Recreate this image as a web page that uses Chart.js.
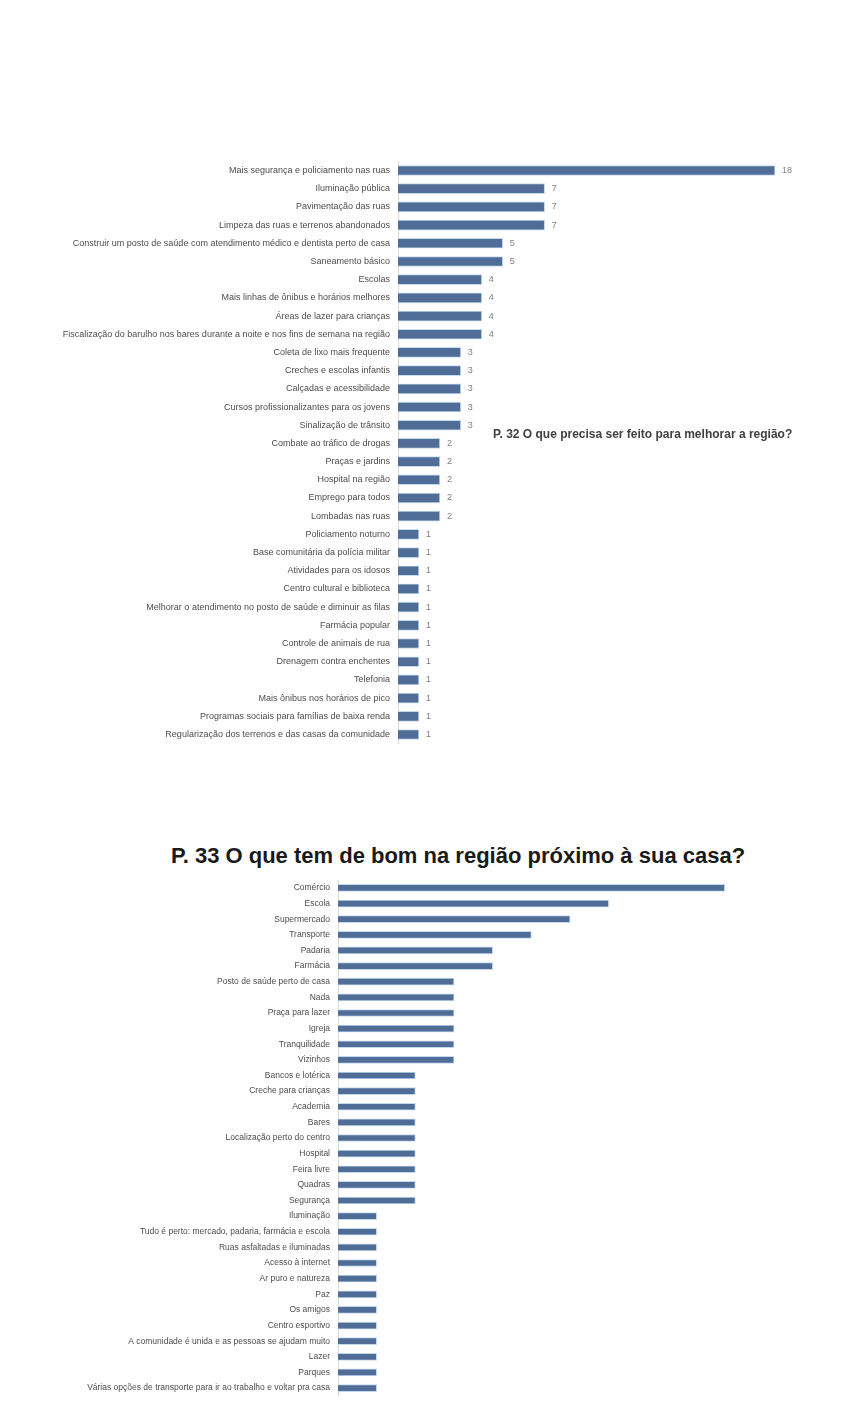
<!DOCTYPE html>
<html lang="pt-BR">
<head>
<meta charset="utf-8">
<title>Pesquisa na região - P. 32 e P. 33</title>
<script src="https://cdn.jsdelivr.net/npm/chart.js@4.4.1/dist/chart.umd.min.js"></script>
<style>
    body { margin: 0; background: #ffffff; font-family: "Liberation Sans", Arial, sans-serif; overflow: hidden; }
    .painel { position: absolute; }
    #titulo32 {
        position: absolute; left: 493px; top: 427px;
        font-size: 12px; font-weight: bold; color: #404040; white-space: nowrap;
    }
    #titulo33 {
        position: absolute; left: 158px; top: 842px; width: 600px; text-align: center;
        font-size: 22px; line-height: 28px; font-weight: bold; color: #1a1a1a; white-space: nowrap;
    }
</style>
</head>
<body>

<div class="painel" style="left:40px; top:148px; width:800px; height:609px;">
    <canvas id="graficoMelhorar"></canvas>
</div>
<div id="titulo32">P. 32 O que precisa ser feito para melhorar a região?</div>

<div id="titulo33">P. 33 O que tem de bom na região próximo à sua casa?</div>
<div class="painel" style="left:40px; top:867px; width:766px; height:542px;">
    <canvas id="graficoBom"></canvas>
</div>

<script>
// P. 32 - o que precisa melhorar (respostas por categoria)
const categoriasMelhorar = [
    'Mais segurança e policiamento nas ruas',
    'Iluminação pública',
    'Pavimentação das ruas',
    'Limpeza das ruas e terrenos abandonados',
    'Construir um posto de saúde com atendimento médico e dentista perto de casa',
    'Saneamento básico',
    'Escolas',
    'Mais linhas de ônibus e horários melhores',
    'Áreas de lazer para crianças',
    'Fiscalização do barulho nos bares durante a noite e nos fins de semana na região',
    'Coleta de lixo mais frequente',
    'Creches e escolas infantis',
    'Calçadas e acessibilidade',
    'Cursos profissionalizantes para os jovens',
    'Sinalização de trânsito',
    'Combate ao tráfico de drogas',
    'Praças e jardins',
    'Hospital na região',
    'Emprego para todos',
    'Lombadas nas ruas',
    'Policiamento noturno',
    'Base comunitária da polícia militar',
    'Atividades para os idosos',
    'Centro cultural e biblioteca',
    'Melhorar o atendimento no posto de saúde e diminuir as filas',
    'Farmácia popular',
    'Controle de animais de rua',
    'Drenagem contra enchentes',
    'Telefonia',
    'Mais ônibus nos horários de pico',
    'Programas sociais para famílias de baixa renda',
    'Regularização dos terrenos e das casas da comunidade'
];
const valoresMelhorar = [18, 7, 7, 7, 5, 5, 4, 4, 4, 4, 3, 3, 3, 3, 3, 2, 2, 2, 2, 2,
    1, 1, 1, 1, 1, 1, 1, 1, 1, 1, 1, 1];

// P. 33 - o que tem de bom perto de casa
const categoriasBom = [
    'Comércio',
    'Escola',
    'Supermercado',
    'Transporte',
    'Padaria',
    'Farmácia',
    'Posto de saúde perto de casa',
    'Nada',
    'Praça para lazer',
    'Igreja',
    'Tranquilidade',
    'Vizinhos',
    'Bancos e lotérica',
    'Creche para crianças',
    'Academia',
    'Bares',
    'Localização perto do centro',
    'Hospital',
    'Feira livre',
    'Quadras',
    'Segurança',
    'Iluminação',
    'Tudo é perto: mercado, padaria, farmácia e escola',
    'Ruas asfaltadas e iluminadas',
    'Acesso à internet',
    'Ar puro e natureza',
    'Paz',
    'Os amigos',
    'Centro esportivo',
    'A comunidade é unida e as pessoas se ajudam muito',
    'Lazer',
    'Parques',
    'Várias opções de transporte para ir ao trabalho e voltar pra casa'
];
const valoresBom = [10, 7, 6, 5, 4, 4, 3, 3, 3, 3, 3, 3, 2, 2, 2, 2, 2, 2, 2, 2, 2,
    1, 1, 1, 1, 1, 1, 1, 1, 1, 1, 1, 1];

const corBarra = '#506d97';
const corBorda = '#c3d9ee';
const fonteBase = '"Liberation Sans", Arial, sans-serif';

// Escreve o valor ao lado de cada barra (só no primeiro gráfico)
const rotulosValores = {
    id: 'rotulosValores',
    afterDatasetsDraw(chart, args, opts) {
        if (!opts || !opts.mostrar) return;
        const ctx = chart.ctx;
        const meta = chart.getDatasetMeta(0);
        ctx.save();
        ctx.font = '9px ' + fonteBase;
        ctx.fillStyle = '#7f7f7f';
        ctx.textBaseline = 'middle';
        meta.data.forEach(function(barra, i) {
            ctx.fillText(String(chart.data.datasets[0].data[i]), barra.x + 7, barra.y);
        });
        ctx.restore();
    }
};

function criarGrafico(id, categorias, valores, opcoes) {
    return new Chart(document.getElementById(id), {
        type: 'bar',
        data: {
            labels: categorias,
            datasets: [{
                data: valores,
                backgroundColor: corBarra,
                borderColor: corBorda,
                borderWidth: 1,
                barThickness: opcoes.espessura
            }]
        },
        options: {
            indexAxis: 'y',
            responsive: true,
            maintainAspectRatio: false,
            animation: false,
            layout: { padding: 0 },
            plugins: {
                legend: { display: false },
                tooltip: { enabled: false },
                title: { display: false },
                rotulosValores: { mostrar: opcoes.rotulos }
            },
            scales: {
                x: {
                    display: false,
                    min: 0,
                    max: opcoes.maximo
                },
                y: {
                    afterFit: function(scale) { scale.width = opcoes.larguraEixo; },
                    grid: { display: false, drawTicks: false },
                    border: { display: true, color: '#d9d9d9' },
                    ticks: {
                        autoSkip: false,
                        padding: 8,
                        color: '#4d4d4d',
                        font: { size: opcoes.fonteRotulo, family: fonteBase }
                    }
                }
            }
        },
        plugins: [rotulosValores]
    });
}

criarGrafico('graficoMelhorar', categoriasMelhorar, valoresMelhorar, {
    espessura: 10, maximo: 21.1, larguraEixo: 358, rotulos: true, fonteRotulo: 9
});

criarGrafico('graficoBom', categoriasBom, valoresBom, {
    espessura: 7, maximo: 12.1, larguraEixo: 298, rotulos: false, fonteRotulo: 8.5
});
</script>
</body>
</html>
